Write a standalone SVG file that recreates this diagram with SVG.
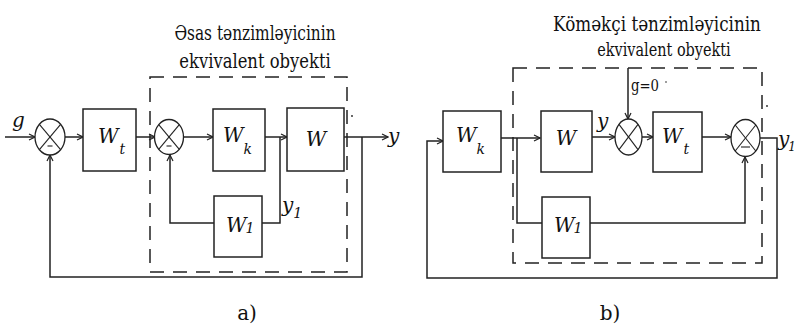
<svg xmlns="http://www.w3.org/2000/svg" width="797" height="330" viewBox="0 0 797 330">
<style>
.blk{fill:#fff;stroke:#222;stroke-width:1.5}
.sum{fill:#fff;stroke:#222;stroke-width:1.3}
.x{stroke:#222;stroke-width:1.1}
.ln{fill:none;stroke:#222;stroke-width:1.5}
.arr{marker-end:url(#ah)}
.dash{fill:none;stroke:#222;stroke-width:1.5;stroke-dasharray:14 9}
.w{font-style:italic;font-size:20px}
.s{font-size:14px}
</style>
<defs>
<marker id="ah" markerWidth="8" markerHeight="8" refX="7" refY="4" orient="auto" markerUnits="userSpaceOnUse">
<path d="M1,1 L7,4 L1,7" fill="none" stroke="#222" stroke-width="1.2"/>
</marker>
</defs>

<!-- dashed boundaries -->
<rect class="dash" x="150" y="77" width="197" height="195"/>
<rect class="dash" x="513" y="68" width="249" height="195"/>
<circle cx="352" cy="116" r="0.9" fill="#222"/>
<circle cx="767" cy="106" r="0.9" fill="#222"/>

<!-- connectors -->
<g id="connectors">
<path class="ln arr" d="M5,137 H35"/>
<path class="ln arr" d="M65,137 H83"/>
<path class="ln arr" d="M136,137 H155"/>
<path class="ln arr" d="M184,137 H213"/>
<path class="ln arr" d="M265,137 H287"/>
<path class="ln" d="M280,137 V223 H262"/>
<path class="ln arr" d="M214,223 H170 V155"/>
<path class="ln arr" d="M344,137 H388"/>
<path class="ln arr" d="M362,137 V277 H50 V155"/>

<path class="ln arr" d="M760,138 H777 V278 H427 V141 H443"/>
<path class="ln arr" d="M501,138 H540"/>
<path class="ln" d="M517,138 V223 H542"/>
<path class="ln arr" d="M590,223 H745 V157"/>
<path class="ln arr" d="M592,137 H615"/>
<path class="ln arr" d="M628,68 V119"/>
<path class="ln arr" d="M642,137 H653"/>
<path class="ln arr" d="M702,137 H731"/>
</g>

<g font-family="DejaVu Serif, serif" fill="#111">
<!-- titles -->
<text transform="translate(255,40) scale(0.77,1)" font-size="20" text-anchor="middle">Əsas tənzimləyicinin</text>
<text transform="translate(255,68) scale(0.82,1)" font-size="20" text-anchor="middle">ekvivalent obyekti</text>
<text transform="translate(657,31) scale(0.84,1)" font-size="20" text-anchor="middle">Köməkçi tənzimləyicinin</text>
<text transform="translate(664,56) scale(0.76,1)" font-size="19" text-anchor="middle">ekvivalent obyekti</text>

<!-- panel a nodes -->
<g id="sum1">
<ellipse class="sum" cx="50" cy="137" rx="15" ry="18"/>
<line class="x" x1="39.4" y1="124.3" x2="60.6" y2="149.7"/>
<line class="x" x1="60.6" y1="124.3" x2="39.4" y2="149.7"/>
<line class="x" x1="47.5" y1="146" x2="52.5" y2="146"/>
</g>
<g id="Wt_a">
<rect class="blk" x="83" y="109" width="53" height="62"/>
<text class="w" x="98" y="143">W<tspan class="s" dx="1" dy="11">t</tspan></text>
</g>
<g id="sum2">
<ellipse class="sum" cx="169" cy="137" rx="14.5" ry="17.5"/>
<line class="x" x1="158.7" y1="124.6" x2="179.3" y2="149.4"/>
<line class="x" x1="179.3" y1="124.6" x2="158.7" y2="149.4"/>
<line class="x" x1="166.5" y1="146" x2="171.5" y2="146"/>
</g>
<g id="Wk_a">
<rect class="blk" x="213" y="109" width="52" height="62"/>
<text class="w" x="223" y="142">W<tspan class="s" dx="0" dy="12">k</tspan></text>
</g>
<g id="W_a">
<rect class="blk" x="287" y="108" width="57" height="63"/>
<text class="w" x="316" y="146" text-anchor="middle">W</text>
</g>
<g id="W1_a">
<rect class="blk" x="214" y="196" width="48" height="61"/>
<text class="w" x="226" y="232">W<tspan class="s" dx="-1" dy="1">1</tspan></text>
</g>
<text class="w" x="12" y="127" font-size="20">g</text>
<text class="w" x="388" y="143" font-size="19">y</text>
<text class="w" x="282" y="212" font-size="18">y<tspan class="s" dx="0" dy="6">1</tspan></text>
<text x="247" y="320" font-size="20" text-anchor="middle">a)</text>

<!-- panel b nodes -->
<g id="Wk_b">
<rect class="blk" x="443" y="111" width="58" height="61"/>
<text class="w" x="456" y="142">W<tspan class="s" dx="0" dy="12">k</tspan></text>
</g>
<g id="W_b">
<rect class="blk" x="541" y="111" width="51" height="61"/>
<text class="w" x="566" y="145" text-anchor="middle">W</text>
</g>
<g id="sum3">
<ellipse class="sum" cx="628.5" cy="137" rx="13.5" ry="18"/>
<line class="x" x1="619" y1="124.3" x2="638" y2="149.7"/>
<line class="x" x1="638" y1="124.3" x2="619" y2="149.7"/>
</g>
<g id="Wt_b">
<rect class="blk" x="653" y="112" width="49" height="60"/>
<text class="w" x="662" y="143">W<tspan class="s" dx="1" dy="11">t</tspan></text>
</g>
<g id="sum4">
<ellipse class="sum" cx="745.5" cy="138" rx="14.5" ry="18.5"/>
<line class="x" x1="735.2" y1="125" x2="755.8" y2="151"/>
<line class="x" x1="755.8" y1="125" x2="735.2" y2="151"/>
<line class="x" x1="741" y1="147" x2="750" y2="147"/>
</g>
<g id="W1_b">
<rect class="blk" x="542" y="197" width="48" height="61"/>
<text class="w" x="554" y="232">W<tspan class="s" dx="-1" dy="1">1</tspan></text>
</g>
<text class="w" x="597" y="128" font-size="18">y</text>
<text transform="translate(631,91) scale(0.78,1)" font-size="17">g=0</text>
<circle cx="666" cy="82" r="0.8" fill="#222"/>
<text class="w" x="778" y="146" font-size="17">y<tspan font-size="12" dx="-1" dy="5">1</tspan></text>
<text x="610" y="320" font-size="20" text-anchor="middle">b)</text>
</g>
</svg>
